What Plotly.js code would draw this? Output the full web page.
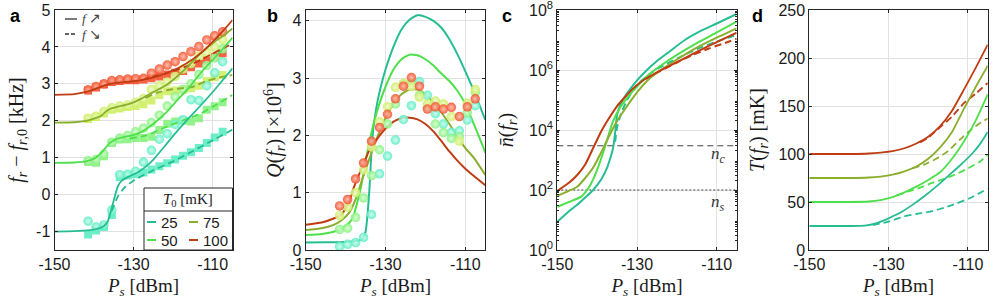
<!DOCTYPE html>
<html><head><meta charset="utf-8">
<script src="https://cdn.plot.ly/plotly-3.0.1.min.js"></script>
<style>html,body{margin:0;padding:0;background:#fff}#chart{width:996px;height:301px}</style>
</head><body><div id="chart"></div>
<script>
// ---------- data ----------
const temps = [25, 50, 75, 100];
const tempLabels = ['25', '50', '75', '100'];
const lineColors = ['#27bd93', '#4de04a', '#8aae2e', '#c03c12'];
const markColors = ['#5cedc2', '#86f27e', '#cdee62', '#f4502c'];
const markCenters = ['#c8fbec', '#d4fbd0', '#eefac8', '#fdb8a6'];

// measured powers (dBm)
const P_meas = [-141.5,-139.5,-137.5,-135.5,-133.5,-131.5,-129.5,-127.5,-125.5,-123.5,-121.5,-119.5,-117.5,-115.5,-113.5,-111.5,-109.5,-107.5];

// panel a: measured f_r - f_r0 (kHz), up sweep (circles) / down sweep (squares)
const a_up_25  = [-0.72,-0.88,-0.82,-0.42,0.54,0.55,0.63,0.88,1.2,1.5,1.65,1.9,2.03,2.57,2.55,2.95,3.3,3.6];
const a_dn_25  = [-1.08,-0.97,-0.88,-0.55,0.48,0.52,0.55,0.6,0.68,0.77,0.85,0.95,1.05,1.15,1.26,1.4,1.55,1.7];
const a_up_50  = [0.92,0.95,1.1,1.42,1.53,1.6,1.7,1.8,1.95,2.15,2.4,2.65,2.85,3.0,3.25,3.5,3.7,3.95];
const a_dn_50  = [0.88,0.86,1.04,1.4,1.49,1.5,1.53,1.53,1.57,1.75,1.92,1.98,2.0,1.98,2.07,2.3,2.39,2.5];
const a_up_75  = [2.07,2.12,2.25,2.35,2.4,2.43,2.5,2.6,2.85,2.95,3.05,3.2,3.4,3.55,3.75,3.85,4.0,4.2];
const a_dn_75  = [2.05,2.1,2.2,2.3,2.33,2.37,2.4,2.45,2.55,2.7,2.8,2.82,2.85,2.88,2.95,3.08,3.18,3.24];
const a_up_100 = [2.84,2.93,3.0,3.09,3.11,3.13,3.14,3.15,3.29,3.4,3.51,3.6,3.74,3.87,4.01,4.19,4.3,4.41];
const a_dn_100 = [2.82,2.9,2.98,3.05,3.08,3.1,3.1,3.12,3.15,3.2,3.25,3.3,3.35,3.45,3.55,3.63,3.73,3.83];

// panel a: model curves
const aP_25u = [-150,-145,-141,-139,-137.5,-136.5,-136,-135.5,-135,-134.5,-134,-133,-131,-129,-127,-125,-122,-119,-116,-113,-110,-107,-105];
const aV_25u = [-1.0,-0.99,-0.96,-0.92,-0.85,-0.72,-0.55,-0.35,-0.15,0.05,0.22,0.38,0.5,0.6,0.75,0.95,1.33,1.72,2.08,2.42,2.78,3.16,3.42];
const aP_25d = [-135.5,-135,-134,-133,-132,-130,-128,-125,-120,-115,-110,-105];
const aV_25d = [-0.45,-0.3,-0.05,0.1,0.22,0.38,0.5,0.66,0.9,1.18,1.47,1.76];
const aP_50u = [-150,-145,-142,-140,-138,-137,-136,-135,-134,-132,-130,-128,-125,-122,-119,-116,-113,-110,-107,-105];
const aV_50u = [0.86,0.87,0.9,0.97,1.15,1.28,1.4,1.47,1.52,1.57,1.62,1.7,1.92,2.2,2.55,2.9,3.3,3.65,4.0,4.25];
const aP_50d = [-131,-128,-125,-122,-119,-116,-113,-110,-107,-105];
const aV_50d = [1.52,1.57,1.68,1.82,1.95,2.07,2.2,2.38,2.57,2.7];
const aP_75u = [-150,-145,-142,-140,-138,-137,-136,-134,-132,-130,-128,-125,-122,-119,-116,-113,-110,-107,-105];
const aV_75u = [1.95,1.96,2.0,2.06,2.15,2.25,2.32,2.38,2.43,2.5,2.6,2.78,2.95,3.2,3.5,3.83,4.1,4.33,4.5];
const aP_75d = [-127,-124,-121,-118,-115,-112,-109,-107,-105];
const aV_75d = [2.62,2.76,2.84,2.88,2.92,3.06,3.16,3.2,3.24];
const aP_100u = [-150,-145,-142,-140,-138,-136,-133,-130,-127,-124,-121,-118,-115,-112,-109,-107,-105];
const aV_100u = [2.7,2.72,2.78,2.85,2.93,3.0,3.04,3.07,3.12,3.2,3.32,3.47,3.67,3.93,4.25,4.48,4.73];
const aP_100d = [-128,-125,-122,-119,-116,-113,-110,-107,-105];
const aV_100d = [3.1,3.2,3.28,3.38,3.5,3.65,3.82,3.98,4.1];

// panel b: measured Q (x10^6)
const b_25  = [0.06,0.1,0.13,0.22,0.62,1.33,1.64,1.92,2.28,2.52,2.94,2.7,2.38,2.2,2.05,2.08,2.27,2.52];
const b_50  = [0.36,0.38,0.57,0.91,1.3,1.75,2.2,2.55,2.9,2.92,2.7,2.5,2.2,2.05,1.95,1.98,2.4,2.75];
const b_75  = [0.6,0.75,1.0,1.4,1.8,2.24,2.5,2.84,2.91,2.85,2.67,2.55,2.6,2.55,2.33,1.9,2.56,2.8];
const b_100 = [0.77,0.88,1.24,1.52,1.9,2.14,2.37,2.64,2.86,3.01,2.86,2.46,2.5,2.46,2.49,2.33,2.5,2.64];
// panel b: model curves
const bP_25 = [-150,-145,-140,-138,-137,-136,-135.5,-135,-134.5,-134,-133.5,-133,-132,-131,-130,-128,-126,-124,-122,-120,-118,-116,-114,-112,-110,-108,-105];
const bQ_25 = [0.13,0.135,0.14,0.15,0.16,0.18,0.23,0.32,0.62,1.1,1.75,2.15,2.6,2.9,3.15,3.55,3.85,4.02,4.1,4.07,4.0,3.88,3.68,3.42,3.12,2.8,2.27];
const bP_50 = [-150,-146,-143,-141,-139,-138,-137,-136,-135,-134,-133,-132,-130,-128,-126,-124,-122,-120,-118,-116,-114,-112,-110,-108,-106,-105];
const bQ_50 = [0.26,0.28,0.32,0.37,0.48,0.6,0.85,1.15,1.55,1.9,2.2,2.45,2.85,3.15,3.33,3.41,3.4,3.33,3.22,3.08,2.95,2.78,2.55,2.22,1.88,1.7];
const bP_75 = [-150,-146,-143,-141,-139,-138,-137,-136,-134,-132,-130,-128,-126,-124,-122,-120,-118,-116,-114,-112,-110,-108,-105];
const bQ_75 = [0.35,0.38,0.44,0.52,0.66,0.8,0.98,1.2,1.6,1.98,2.3,2.55,2.72,2.8,2.8,2.72,2.58,2.4,2.2,1.98,1.78,1.62,1.31];
const bP_100 = [-150,-146,-143,-141,-139,-138,-137,-136,-134,-132,-130,-128,-126,-124,-122,-120,-118,-116,-114,-112,-110,-108,-105];
const bQ_100 = [0.44,0.48,0.55,0.62,0.86,1.08,1.26,1.42,1.75,1.95,2.12,2.24,2.3,2.31,2.28,2.2,2.07,1.9,1.72,1.56,1.42,1.3,1.13];

// panel c: mean photon number
const cP_25u = [-150,-147,-145,-143,-141,-139,-137.5,-136.5,-136,-135.5,-135,-134,-132.5,-130,-127.5,-125,-122,-118,-114,-110,-105];
const cN_25u = [8.7,20,32,56,100,224,562,1413,2512,7943,3.2e4,7.9e4,1.66e5,4.5e5,1.0e6,2.0e6,4.0e6,1.0e7,2.0e7,3.55e7,7.4e7];
const cP_25d = [-135.5,-135,-134,-132.5,-130,-127,-124,-120,-115,-110,-105];
const cN_25d = [4.0e3,1.26e4,3.5e4,1.0e5,3.2e5,7.1e5,1.26e6,2.4e6,5.0e6,8.9e6,1.48e7];
const cP_50 = [-150,-147,-144,-142,-140,-138.5,-137.5,-136,-134,-132,-130,-127,-124,-120,-115,-110,-105];
const cN_50 = [27.5,40,60,126,468,1778,4677,2.0e4,6.3e4,1.41e5,2.8e5,7.1e5,1.41e6,3.2e6,7.9e6,1.78e7,4.1e7];
const cP_75 = [-150,-147,-145,-143,-141,-139,-137,-135,-133,-130,-127,-124,-120,-115,-110,-105];
const cN_75 = [63,95,129,251,562,1778,6310,2.0e4,5.0e4,1.78e5,5.0e5,1.0e6,2.24e6,5.6e6,1.2e7,2.45e7];
const cP_100u = [-150,-147,-145,-143,-141,-139,-137,-135,-133,-131,-128,-125,-122,-118,-114,-110,-105];
const cN_100u = [93,178,316,708,2512,8913,2.5e4,6.3e4,1.26e5,2.4e5,5.0e5,8.3e5,1.35e6,2.5e6,4.7e6,8.5e6,1.74e7];
const cP_100d = [-128,-124,-120,-116,-112,-108,-105];
const cN_100d = [5.0e5,9.5e5,1.78e6,3.2e6,5.2e6,7.9e6,1.1e7];
const n_c = 3000;
const n_s = 100;

// panel d: effective temperature (mK)
const dP_25u = [-150,-140,-136,-133,-130,-127,-124,-121,-118,-115,-112,-109,-107,-105];
const dT_25u = [25,25,25.3,28,33,39,47,56,66,77,88,100,110,123];
const dP_25d = [-134,-130,-126.3,-123,-119.5,-116,-112.8,-109,-105];
const dT_25d = [26,29.5,34.7,37.5,40,44,48.6,55,64];
const dP_50u = [-150,-140,-135,-132,-129,-126,-123,-120,-117,-114,-111,-108,-105];
const dT_50u = [50,50,50.5,52,55,60,66,73,81,95,113,135,162];
const dP_50d = [-128,-125,-122,-119,-116,-113,-110,-107,-105];
const dT_50d = [57,61,65,70,74,79,85,92,99];
const dP_75u = [-150,-140,-135,-132,-129,-126,-123,-120,-117,-114,-111,-108,-105];
const dT_75u = [75,75,75.5,76.5,78.5,82,87,95,107,123,147,170,192];
const dP_75d = [-124,-121,-118,-115,-112,-109,-107,-105];
const dT_75d = [85,89,95,103,115,126,132,137];
const dP_100u = [-150,-140,-135,-132,-129,-126,-123,-120,-117,-114,-111,-108,-105];
const dT_100u = [100,100,100.5,101.5,103,106,111,118,129,145,167,190,214];
const dP_100d = [-122,-120,-117,-114,-111,-108,-105];
const dT_100d = [112,117,128,139,153,163,174];

// tick labels
const xTicks = [-150, -130, -110];
const cTickVals = [1, 1e2, 1e4, 1e6, 1e8];
const cTickText = ['10<sup>0</sup>','10<sup>2</sup>','10<sup>4</sup>','10<sup>6</sup>','10<sup>8</sup>'];

// ---------- helpers ----------
const W = 996;
const px = v => v / W;
const py = v => (250 - v) / 240;
const SERIF = 'Liberation Serif, Times New Roman, serif';
const SANS = 'Liberation Sans, Arial, Helvetica, sans-serif';
const AXC = '#262626';
const DASH = '7px,4px';

function ln(xa, ya, x, y, i, dashed, w) {
  return {type:'scatter', mode:'lines', x:x, y:y, xaxis:xa, yaxis:ya, showlegend:false, hoverinfo:'skip',
    line:{color:lineColors[i], width:w||1.8, dash: dashed ? DASH : 'solid', shape:'spline', smoothing:0.5}};
}
function circ(xa, ya, y, i) {
  return {type:'scatter', mode:'markers', x:P_meas, y:y, xaxis:xa, yaxis:ya, showlegend:false, hoverinfo:'skip',
    marker:{symbol:'circle', size:9.5, color:markColors[i], opacity:0.88, line:{width:0},
      gradient:{type:'radial', color:markCenters[i]}}};
}
function sq(xa, ya, y, i) {
  return {type:'scatter', mode:'markers', x:P_meas, y:y, xaxis:xa, yaxis:ya, showlegend:false, hoverinfo:'skip',
    marker:{symbol:'square', size:8, color:markColors[i], opacity:0.9, line:{width:0}}};
}

const traces = [];
// panel a markers
[a_dn_25, a_dn_50, a_dn_75, a_dn_100].forEach((y,i)=>traces.push(sq('x','y',y,i)));
[a_up_25, a_up_50, a_up_75, a_up_100].forEach((y,i)=>traces.push(circ('x','y',y,i)));
// panel a lines
traces.push(ln('x','y',aP_25d,aV_25d,0,true));
traces.push(ln('x','y',aP_50d,aV_50d,1,true));
traces.push(ln('x','y',aP_75d,aV_75d,2,true));
traces.push(ln('x','y',aP_100d,aV_100d,3,true));
traces.push(ln('x','y',aP_25u,aV_25u,0,false));
traces.push(ln('x','y',aP_50u,aV_50u,1,false));
traces.push(ln('x','y',aP_75u,aV_75u,2,false));
traces.push(ln('x','y',aP_100u,aV_100u,3,false));

// panel b
traces.push(ln('x2','y2',bP_25,bQ_25,0,false,2));
traces.push(ln('x2','y2',bP_50,bQ_50,1,false,2));
traces.push(ln('x2','y2',bP_75,bQ_75,2,false,2));
traces.push(ln('x2','y2',bP_100,bQ_100,3,false,2));
[b_25, b_50, b_75, b_100].forEach((y,i)=>traces.push(circ('x2','y2',y,i)));

// panel c
traces.push({type:'scatter', mode:'lines', x:[-150,-105], y:[n_c,n_c], xaxis:'x3', yaxis:'y3', showlegend:false, hoverinfo:'skip', line:{color:'#444', width:1.1, dash:'6px,4px'}});
traces.push({type:'scatter', mode:'lines', x:[-150,-105], y:[n_s,n_s], xaxis:'x3', yaxis:'y3', showlegend:false, hoverinfo:'skip', line:{color:'#444', width:1.1, dash:'2px,2px'}});
traces.push(ln('x3','y3',cP_25d,cN_25d,0,true,2));
traces.push(ln('x3','y3',cP_100d,cN_100d,3,true,2));
traces.push(ln('x3','y3',cP_25u,cN_25u,0,false,2));
traces.push(ln('x3','y3',cP_50,cN_50,1,false,2));
traces.push(ln('x3','y3',cP_75,cN_75,2,false,2));
traces.push(ln('x3','y3',cP_100u,cN_100u,3,false,2));

// panel d
traces.push(ln('x4','y4',dP_25d,dT_25d,0,true));
traces.push(ln('x4','y4',dP_50d,dT_50d,1,true));
traces.push(ln('x4','y4',dP_75d,dT_75d,2,true));
traces.push(ln('x4','y4',dP_100d,dT_100d,3,true));
traces.push(ln('x4','y4',dP_25u,dT_25u,0,false));
traces.push(ln('x4','y4',dP_50u,dT_50u,1,false));
traces.push(ln('x4','y4',dP_75u,dT_75u,2,false));
traces.push(ln('x4','y4',dP_100u,dT_100u,3,false));

// ---------- axes ----------
const xTitle = {text:'<i>P<sub>s</sub></i> [dBm]', font:{family:SERIF, size:19, color:'#1a1a1a'}, standoff:6};
function xAxis(dom, anchor) {
  return {domain:dom, anchor:anchor, range:[-150,-105], tickmode:'array', tickvals:xTicks, ticktext:xTicks.map(String),
    showline:true, linecolor:AXC, linewidth:1, mirror:'allticks', ticks:'inside', ticklen:3, tickcolor:AXC,
    showgrid:true, gridcolor:'#e2e2e2', gridwidth:1, zeroline:false, automargin:false, ticklabeloverflow:'allow',
    tickfont:{family:SANS, size:16, color:'#1a1a1a'}, title:xTitle};
}
function yAxis(anchor, extra) {
  return Object.assign({anchor:anchor, domain:[0,1], showline:true, linecolor:AXC, linewidth:1, mirror:'allticks',
    ticks:'inside', ticklen:3, tickcolor:AXC, showgrid:true, gridcolor:'#e2e2e2', gridwidth:1, zeroline:false,
    automargin:false, ticklabeloverflow:'allow', tickfont:{family:SANS, size:16, color:'#1a1a1a'}}, extra);
}
const yTfont = {family:SERIF, size:20, color:'#1a1a1a'};

// minor tick positions for the log axis (2..9 per decade)
const cMinor = [];
for (let e = 0; e < 8; e++) for (let k = 2; k <= 9; k++) cMinor.push(k * Math.pow(10, e));

const layout = {
  width:996, height:301, margin:{l:0, r:0, t:10, b:51}, paper_bgcolor:'#fff', plot_bgcolor:'#fff', showlegend:false,
  xaxis:  xAxis([54.5/W, 232.5/W], 'y'),
  xaxis2: xAxis([305.7/W, 485.3/W], 'y2'),
  xaxis3: xAxis([557.3/W, 736.7/W], 'y3'),
  xaxis4: xAxis([809.3/W, 987.7/W], 'y4'),
  yaxis:  yAxis('x',  {range:[-1.5,5], tickvals:[-1,0,1,2,3,4,5], ticktext:['-1','0','1','2','3','4','5'],
            title:{text:'<i>f<sub>r</sub></i> − <i>f</i><sub><i>r</i>,0</sub> [kHz]', font:yTfont, standoff:7}}),
  yaxis2: yAxis('x2', {range:[0,4.19], tickvals:[0,1,2,3,4], ticktext:['0','1','2','3','4'],
            title:{text:'<i>Q</i>(<i>f<sub>r</sub></i>) [×10<sup>6</sup>]', font:yTfont, standoff:5}}),
  yaxis3: yAxis('x3', {type:'log', range:[0, 8], tickmode:'array', tickvals:cTickVals, ticktext:cTickText,
            minor:{tickmode:'array', tickvals:cMinor, ticks:'inside', ticklen:2, tickcolor:AXC, showgrid:false},
            title:{text:'<i>n\u0304</i>(<i>f<sub>r</sub></i>)', font:yTfont, standoff:10}}),
  yaxis4: yAxis('x4', {range:[0,250], tickvals:[0,50,100,150,200,250], ticktext:['0','50','100','150','200','250'],
            title:{text:'<i>T</i>(<i>f<sub>r</sub></i>) [mK]', font:yTfont, standoff:8}}),
  shapes:[], annotations:[]
};

// panel letters
[['a',15],['b',272],['c',507],['d',757]].forEach(([t,x])=>{
  layout.annotations.push({text:'<b>'+t+'</b>', x:px(x), y:py(16), xref:'paper', yref:'paper', showarrow:false,
    xanchor:'center', yanchor:'middle', font:{family:SANS, size:18, color:'#000'}});
});

// sweep-direction key in panel a
layout.shapes.push({type:'line', xref:'paper', yref:'paper', x0:px(65), x1:px(77), y0:py(19), y1:py(19), line:{color:'#333', width:1.3}});
layout.shapes.push({type:'line', xref:'paper', yref:'paper', x0:px(65), x1:px(77), y0:py(34), y1:py(34), line:{color:'#333', width:1.3, dash:'4px,2px'}});
layout.annotations.push({text:'<i>f</i> ↗', x:px(80), y:py(19), xref:'paper', yref:'paper', showarrow:false, xanchor:'left', yanchor:'middle', font:{family:SERIF, size:13.5, color:'#444'}});
layout.annotations.push({text:'<i>f</i> ↘', x:px(80), y:py(34.5), xref:'paper', yref:'paper', showarrow:false, xanchor:'left', yanchor:'middle', font:{family:SERIF, size:13.5, color:'#444'}});

// temperature legend in panel a
layout.shapes.push({type:'rect', xref:'paper', yref:'paper', x0:px(144), x1:px(232.5), y0:py(250), y1:py(188), fillcolor:'#fff', line:{color:AXC, width:1}, layer:'above'});
layout.shapes.push({type:'line', xref:'paper', yref:'paper', x0:px(144), x1:px(232.5), y0:py(211), y1:py(211), line:{color:AXC, width:1}, layer:'above'});
layout.annotations.push({text:'<i>T</i><sub>0</sub> [mK]', x:px(188), y:py(200), xref:'paper', yref:'paper', showarrow:false, xanchor:'center', yanchor:'middle', font:{family:SERIF, size:15, color:'#1a1a1a'}});
const legPos = [[147,222],[147,240],[189,222],[189,240]]; // 25, 50, 75, 100
temps.forEach((t,i)=>{
  const [x,y] = legPos[i];
  layout.shapes.push({type:'line', xref:'paper', yref:'paper', x0:px(x), x1:px(x+9), y0:py(y), y1:py(y), line:{color:lineColors[i], width:2}, layer:'above'});
  layout.annotations.push({text:tempLabels[i], x:px(x+12), y:py(y), xref:'paper', yref:'paper', showarrow:false, xanchor:'left', yanchor:'middle', font:{family:SANS, size:15, color:'#1a1a1a'}});
});

// n_c / n_s labels in panel c
layout.annotations.push({text:'<i>n<sub>c</sub></i>', x:px(718), y:py(155), xref:'paper', yref:'paper', showarrow:false, xanchor:'center', yanchor:'middle', font:{family:SERIF, size:17, color:'#333'}});
layout.annotations.push({text:'<i>n<sub>s</sub></i>', x:px(718), y:py(203), xref:'paper', yref:'paper', showarrow:false, xanchor:'center', yanchor:'middle', font:{family:SERIF, size:17, color:'#333'}});

Plotly.newPlot('chart', traces, layout, {staticPlot:true, displayModeBar:false});
</script></body></html>
